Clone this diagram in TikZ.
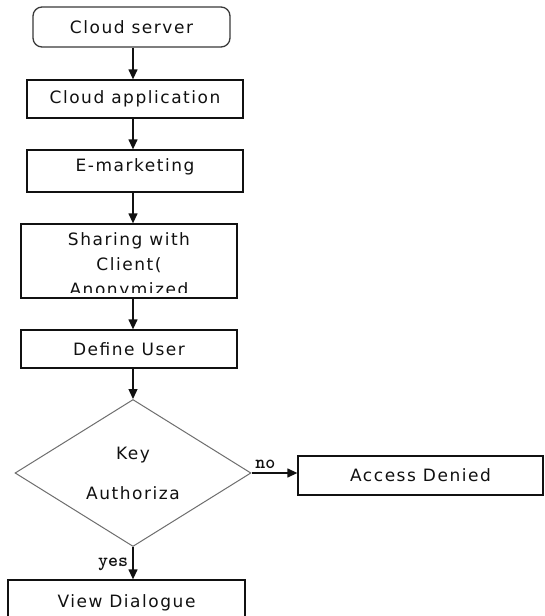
\documentclass[tikz,border=0pt]{standalone}
\usepackage{fontspec}
\setmainfont{DejaVu Sans}[LetterSpace=9.0]
\usetikzlibrary{
  arrows.meta,
  positioning,
  shapes.geometric
}
\definecolor{flowInk}{HTML}{111111}
\definecolor{flowGrey}{HTML}{6E6E6E}
\definecolor{flowEdge}{HTML}{3A3A3A}
\tikzset{
  every node/.style={font=\fontsize{17}{25}\selectfont, text=flowInk},
  stepbox/.style={
    draw=flowInk,
    line width=1.3pt,
    fill=white,
    inner sep=0pt
  },
  startbox/.style={
    stepbox,
    draw=flowEdge,
    rounded corners=9pt
  },
  decision/.style={
    diamond,
    draw=flowGrey,
    line width=1pt,
    inner sep=0pt,
    align=center,
    font=\fontsize{17}{40}\selectfont
  },
  branch/.style={font=\ttfamily\bfseries\fontsize{19}{19}\selectfont, text=flowInk},
  flow/.style={
    -{Triangle[length=10pt,width=9pt]},
    line width=1.3pt,
    draw=flowInk
  }
}

\begin{document}
\begin{tikzpicture}[x=1pt,y=-1pt]
  \clip (0,0) rectangle (545,616);
  \fill[white] (0,0) rectangle (545,616);
  \coordinate (spine) at (133,0);

  \node[startbox, minimum width=197pt, minimum height=40pt] (server) at (131.5,27) {Cloud server};
  \node[stepbox, minimum width=216pt, minimum height=38pt] (app) at (135,99) {Cloud application};
  \node[stepbox, minimum width=216pt, minimum height=42pt] (market) at (135,171) {};
  \node (markettext) at (135,167) {E-marketing};

  \node[stepbox, minimum width=216pt, minimum height=74pt] (share) at (129,261) {};
  \begin{scope}
    \clip (share.north west) rectangle ([yshift=6pt]share.south east);
    \node[align=center] (sharetext) at (129,266) {Sharing with\\Client(\\Anonymized};
  \end{scope}

  \node[stepbox, minimum width=216pt, minimum height=38pt] (user) at (129,349) {Define User};

  \node[decision, minimum width=236pt, minimum height=147pt] (keyauth) at (133,473) {Key\\Authoriza};
  \node[stepbox, minimum width=245pt, minimum height=39pt] (denied) at (420.5,475.5) {Access Denied};
  \node[stepbox, minimum width=237pt, minimum height=50pt] (dialogue) at (126.5,605) {};
  \node (dialoguetext) at (126.5,603) {View Dialogue};

  % main chain
  \draw[flow] (server.south -| spine) -- (app.north -| spine);
  \draw[flow] (app.south -| spine) -- (market.north -| spine);
  \draw[flow] (market.south -| spine) -- (share.north -| spine);
  \draw[flow] (share.south -| spine) -- (user.north -| spine);
  \draw[flow] (user.south -| spine) -- (keyauth.north);

  % branches
  \draw[flow] (keyauth.east) -- (keyauth.east -| denied.west)
    node[branch, pos=0.3, above=0pt] (nolabel) {no};
  \draw[flow] (keyauth.south) -- (keyauth.south |- dialogue.north)
    node[branch, pos=0.55, left=1pt] (yeslabel) {yes};
\end{tikzpicture}
\end{document}
